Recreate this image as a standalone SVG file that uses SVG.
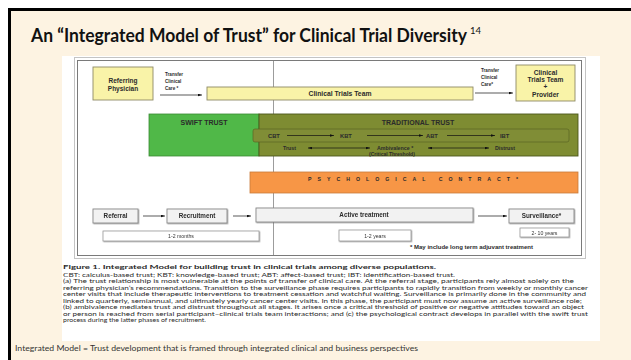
<svg xmlns="http://www.w3.org/2000/svg" width="631" height="360" viewBox="0 0 631 360">
  <defs>
    <style>
      .sans { font-family: "Liberation Sans", Arial, sans-serif; }
      .hum { font-family: Lato, "Open Sans", sans-serif; }
      .lbl { font-family: "Liberation Sans", Arial, sans-serif; font-weight: bold; fill: #2b2b2b; }
      .yel { fill: #F9F3A8; stroke: #8E8A66; stroke-width: 0.9; }
      .gry { fill: #F2F2F2; stroke: #8A8A8A; stroke-width: 0.9; }
      .tbox { fill: #FFFFFF; stroke: #9A9A9A; stroke-width: 0.8; }
      .line { stroke: #111; stroke-width: 0.7; fill: none; }
      .cap { font-family: Lato, "Open Sans", sans-serif; font-size: 5.6px; fill: #2a2a2a; }
    </style>
    <marker id="ah" viewBox="0 0 6 4" refX="6" refY="2" markerWidth="4" markerHeight="3" markerUnits="userSpaceOnUse" orient="auto-start-reverse">
      <path d="M0,0 L6,2 L0,4 z" fill="#111"/>
    </marker>
    <filter id="sh" x="-10%" y="-20%" width="130%" height="160%">
      <feDropShadow dx="0.8" dy="0.8" stdDeviation="0.5" flood-color="#555" flood-opacity="0.5"/>
    </filter>
  </defs>

  <!-- slide background -->
  <rect x="0" y="0" width="631" height="360" fill="#FFFFFF"/>
  <rect x="9" y="9" width="622" height="351" fill="#FDF3E2"/>
  <path d="M9.5,360 V9.5 H631" fill="none" stroke="#000" stroke-width="3"/>

  <!-- title (horizontally condensed) and reference superscript -->
  <text class="hum" transform="translate(31,42) scale(0.848,1)" x="0" y="0" font-size="18.5" font-weight="bold" fill="#111" textLength="514" lengthAdjust="spacingAndGlyphs">An “Integrated Model of Trust” for Clinical Trial Diversity</text>
  <text class="hum" x="470" y="34" font-size="9.5" fill="#111">14</text>

  <!-- figure panel -->
  <rect x="62" y="56" width="538" height="285" fill="#FFFFFF"/>
  <rect x="74.5" y="57.5" width="511" height="201" fill="none" stroke="#C4C4C4" stroke-width="1"/>
  <rect x="77.5" y="60.5" width="504" height="195" fill="none" stroke="#7A7A7A" stroke-width="1"/>
  <line x1="273.5" y1="61" x2="273.5" y2="255" stroke="#9C9C9C" stroke-width="1"/>

  <!-- top row: care providers -->
  <g id="referring-physician">
    <rect class="yel" x="93" y="67" width="60" height="33"/>
    <text class="lbl" x="123" y="83" font-size="6.5" text-anchor="middle">Referring</text>
    <text class="lbl" x="123" y="90.5" font-size="6.5" text-anchor="middle">Physician</text>
  </g>
  <g id="clinical-trials-team">
    <rect class="yel" x="207" y="87" width="266" height="13"/>
    <text class="lbl" x="340" y="96" font-size="6.8" text-anchor="middle">Clinical Trials Team</text>
  </g>
  <g id="team-and-provider">
    <rect class="yel" x="516" y="65" width="59" height="36"/>
    <text class="lbl" x="545.5" y="74.5" font-size="6.6" text-anchor="middle">Clinical</text>
    <text class="lbl" x="545.5" y="81.5" font-size="6.6" text-anchor="middle">Trials Team</text>
    <text class="lbl" x="545.5" y="89" font-size="6.6" text-anchor="middle">+</text>
    <text class="lbl" x="545.5" y="96.5" font-size="6.6" text-anchor="middle">Provider</text>
  </g>

  <!-- trust stages -->
  <g id="swift-trust">
    <rect x="149" y="114" width="110" height="42" fill="#50B848" stroke="#3A8A34" stroke-width="0.8"/>
    <text class="lbl" x="204" y="124.5" font-size="7" text-anchor="middle" fill="#1d1d1d">SWIFT TRUST</text>
  </g>
  <g id="traditional-trust">
    <rect x="259" y="114" width="319" height="42" fill="#7E8C32" stroke="#4C571C" stroke-width="0.9"/>
    <rect x="253" y="129" width="316" height="13" rx="2" fill="#808D36" stroke="#5A6522" stroke-width="0.7"/>
    <text class="lbl" x="418" y="124.5" font-size="7" text-anchor="middle" fill="#1a1a1a">TRADITIONAL TRUST</text>
    <text class="lbl" x="268" y="137.5" font-size="5.8" fill="#1a1a1a">CBT</text>
    <text class="lbl" x="340" y="137.5" font-size="5.8" fill="#1a1a1a">KBT</text>
    <text class="lbl" x="426" y="137.5" font-size="5.8" fill="#1a1a1a">ABT</text>
    <text class="lbl" x="500" y="137.5" font-size="5.8" fill="#1a1a1a">IBT</text>
    <text class="lbl" x="283" y="150" font-size="5.3" fill="#1a1a1a">Trust</text>
    <text class="lbl" x="377" y="150" font-size="5.3" fill="#1a1a1a">Ambivalence *</text>
    <text class="lbl" x="369" y="155.5" font-size="5" fill="#1a1a1a">(Critical Threshold)</text>
    <text class="lbl" x="495" y="150" font-size="5.3" fill="#1a1a1a">Distrust</text>
  </g>
  <g id="psychological-contract">
    <rect x="250" y="172" width="328" height="21" fill="#F79646" stroke="#C97A3A" stroke-width="0.8"/>
    <text class="lbl" x="308" y="180.5" font-size="5.2" fill="#1a1a1a" textLength="210" lengthAdjust="spacing">PSYCHOLOGICAL CONTRACT*</text>
  </g>

  <!-- bottom row: phases -->
  <g id="referral" filter="url(#sh)">
    <rect class="gry" x="93" y="209" width="45" height="14"/>
    <text class="lbl" x="115.5" y="218.2" font-size="6.3" text-anchor="middle">Referral</text>
  </g>
  <g id="recruitment" filter="url(#sh)">
    <rect class="gry" x="167" y="209" width="60" height="14"/>
    <text class="lbl" x="197" y="218.2" font-size="6.3" text-anchor="middle">Recruitment</text>
  </g>
  <g id="active-treatment" filter="url(#sh)">
    <rect class="gry" x="256" y="208" width="217" height="14"/>
    <text class="lbl" x="364" y="217.2" font-size="6.3" text-anchor="middle">Active treatment</text>
  </g>
  <g id="surveillance" filter="url(#sh)">
    <rect class="gry" x="509" y="209" width="65" height="14"/>
    <text class="lbl" x="541.5" y="218.2" font-size="6.3" text-anchor="middle">Surveillance*</text>
  </g>

  <!-- durations -->
  <g id="duration-months" filter="url(#sh)">
    <rect class="tbox" x="103" y="231" width="156" height="10"/>
    <text class="sans" x="181" y="238" font-size="5.2" text-anchor="middle" fill="#333">1-2 months</text>
  </g>
  <g id="duration-years" filter="url(#sh)">
    <rect class="tbox" x="339" y="230" width="72" height="11"/>
    <text class="sans" x="375" y="237.5" font-size="5.2" text-anchor="middle" fill="#333">1-2 years</text>
  </g>
  <g id="duration-surveillance" filter="url(#sh)">
    <rect class="tbox" x="520" y="228" width="49" height="9"/>
    <text class="sans" x="544.5" y="234.5" font-size="5.2" text-anchor="middle" fill="#333">2- 10 years</text>
  </g>
  <text class="lbl" x="410" y="249" font-size="4.8" fill="#222" textLength="123" lengthAdjust="spacingAndGlyphs">* May include long term adjuvant treatment</text>

  <!-- transfer labels -->
  <g class="lbl" font-size="4.6" fill="#333">
    <text x="165" y="75.5">Transfer</text>
    <text x="165" y="82.5">Clinical</text>
    <text x="165" y="89.5">Care *</text>
    <text x="481" y="71.5">Transfer</text>
    <text x="481" y="78.5">Clinical</text>
    <text x="481" y="85.5">Care*</text>
  </g>

  <!-- connectors -->
  <g id="connectors" class="line">
    <line x1="160" y1="95" x2="202" y2="95" marker-end="url(#ah)"/>
    <line x1="475" y1="93" x2="513" y2="93" marker-end="url(#ah)"/>
    <line x1="287" y1="135.5" x2="334" y2="135.5" marker-end="url(#ah)"/>
    <line x1="367" y1="135.5" x2="423" y2="135.5" marker-end="url(#ah)"/>
    <line x1="447" y1="135.5" x2="495" y2="135.5" marker-end="url(#ah)"/>
    <line x1="308" y1="148" x2="370" y2="148" marker-start="url(#ah)" marker-end="url(#ah)"/>
    <line x1="428" y1="148" x2="489" y2="148" marker-start="url(#ah)" marker-end="url(#ah)"/>
    <line x1="143" y1="216" x2="165" y2="216" marker-end="url(#ah)"/>
    <line x1="233" y1="216" x2="251" y2="216" marker-end="url(#ah)"/>
    <line x1="478" y1="216" x2="507" y2="216" marker-end="url(#ah)"/>
  </g>

  <!-- figure caption -->
  <text class="cap" x="63" y="269" font-size="6.3" textLength="373" lengthAdjust="spacingAndGlyphs"><tspan font-weight="bold">Figure 1.</tspan>  <tspan font-weight="bold">Integrated Model for building trust in clinical trials among diverse populations.</tspan></text>
  <text class="cap" x="63" y="276.5" textLength="392" lengthAdjust="spacingAndGlyphs">CBT: calculus-based trust; KBT: knowledge-based trust; ABT: affect-based trust; IBT: identification-based trust.</text>
  <text class="cap" x="63" y="283" textLength="511" lengthAdjust="spacingAndGlyphs">(a) The trust relationship is most vulnerable at the points of transfer of clinical care. At the referral stage, participants rely almost solely on the</text>
  <text class="cap" x="63" y="289.5" textLength="525" lengthAdjust="spacingAndGlyphs">referring physician’s recommendations. Transition to the surveillance phase requires participants to rapidly transition from weekly or monthly cancer</text>
  <text class="cap" x="63" y="296" textLength="523" lengthAdjust="spacingAndGlyphs">center visits that include therapeutic interventions to treatment cessation and watchful waiting. Surveillance is primarily done in the community and</text>
  <text class="cap" x="63" y="302.5" textLength="519" lengthAdjust="spacingAndGlyphs">linked to quarterly, semiannual, and ultimately yearly cancer center visits. In this phase, the participant must now assume an active surveillance role;</text>
  <text class="cap" x="63" y="309" textLength="521" lengthAdjust="spacingAndGlyphs">(b) ambivalence mediates trust and distrust throughout all stages. It arises once a critical threshold of positive or negative attitudes toward an object</text>
  <text class="cap" x="63" y="315.5" textLength="525" lengthAdjust="spacingAndGlyphs">or person is reached from serial participant–clinical trials team interactions; and (c) the psychological contract develops in parallel with the swift trust</text>
  <text class="cap" x="63" y="322" textLength="143" lengthAdjust="spacingAndGlyphs">process during the latter phases of recruitment.</text>

  <!-- slide footnote -->
  <text class="hum" x="15" y="351" font-size="7" fill="#333" textLength="403" lengthAdjust="spacingAndGlyphs">Integrated Model = Trust development that is framed through integrated clinical and business perspectives</text>
</svg>
